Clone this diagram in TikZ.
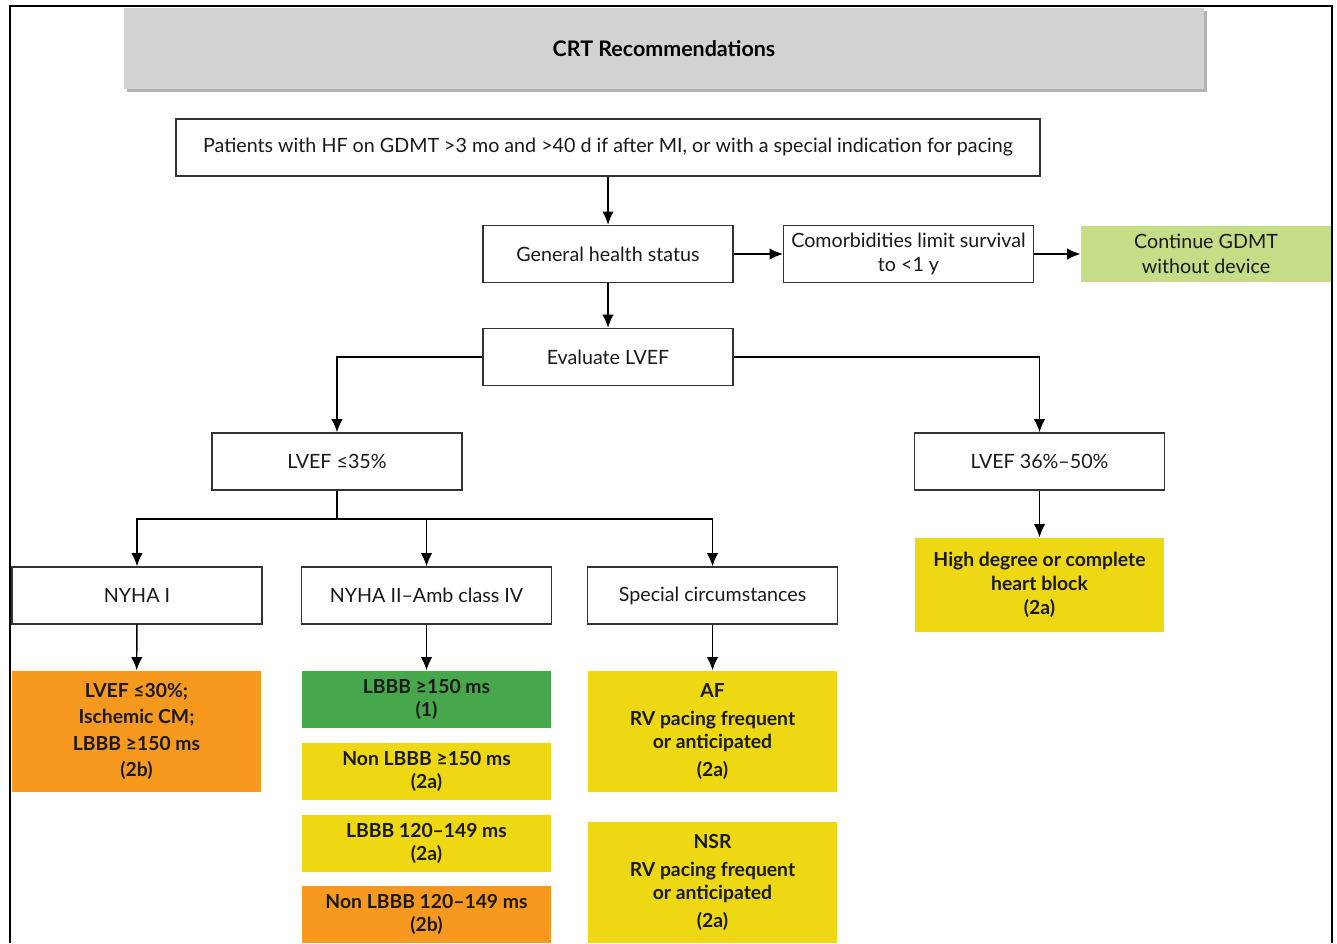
\documentclass[tikz,border=0pt]{standalone}
\usepackage{fontspec}
\setmainfont{Lato}
\usetikzlibrary{arrows.meta}

\definecolor{titlegray}{HTML}{D1D2D4}
\definecolor{titleedge}{HTML}{B3B4B6}
\definecolor{softgreen}{HTML}{C6DD87}
\definecolor{recgreen}{HTML}{46A84A}
\definecolor{recyellow}{HTML}{EED813}
\definecolor{recorange}{HTML}{F6991E}

\begin{document}
\begin{tikzpicture}[x=0.02cm, y=-0.02cm, >={Latex[length=7.5pt,width=6.5pt]},
  line width=0.8pt, font=\fontsize{11.2}{14}\selectfont,
  box/.style={draw=black!80, fill=white, text=black!90, minimum width=5cm,
    minimum height=1.14cm, align=center, inner sep=2pt},
  rec/.style={text=black!90, minimum width=5cm, minimum height=1.14cm,
    align=center, inner sep=2pt, font=\fontsize{11}{13.5}\selectfont\bfseries},
  titlebar/.style={fill=titlegray, minimum width=21.6cm, minimum height=1.62cm,
    font=\fontsize{12.2}{14}\selectfont\bfseries}]
\useasboundingbox (0,0) rectangle (1337,943);
% outer frame
\draw[line width=1.2pt] (10,943) -- (10,6) -- (1332,6) -- (1332,943);
% title with bevelled edge
\fill[titleedge] (127,11) rectangle (1207,92);
\node[titlebar] (title) at (664,48.5) {CRT Recommendations};
% decision boxes
\node[box, minimum width=17.28cm] (patients) at (608,147.5)
  {Patients with HF on GDMT >3 mo and >40 d if after MI, or with a special indication for pacing};
\node[box] (health) at (608,254) {General health status};
\node[box] (comorb) at (908.5,254) {Comorbidities limit survival\\to <1 y};
\node[rec, fill=softgreen, font=\fontsize{11.2}{14}\selectfont] (nodevice) at (1206,254)
  {Continue GDMT\\without device};
\node[box] (evaluate) at (608,357) {Evaluate LVEF};
\node[box] (lowef) at (337,461.5) {LVEF ≤35\%};
\node[box] (midef) at (1039.5,461.5) {LVEF 36\%–50\%};
\node[box] (nyhaI) at (137,595.5) {NYHA I};
\node[box] (nyhaII) at (426.5,595.5) {NYHA II–Amb class IV};
\node[box] (special) at (712.5,595.5) {Special circumstances};
% recommendations
\node[rec, fill=recorange, minimum height=2.42cm] (recA) at (136.5,731.5)
  {LVEF ≤30\%;\\[1.5pt]Ischemic CM;\\[1.5pt]LBBB ≥150 ms\\[1.5pt](2b)};
\node[rec, fill=recgreen] (recB) at (426.5,699.5) {LBBB ≥150 ms\\(1)};
\node[rec, fill=recyellow] (recC) at (426.5,771.5) {Non LBBB ≥150 ms\\(2a)};
\node[rec, fill=recyellow] (recD) at (426.5,843.5) {LBBB 120–149 ms\\(2a)};
\node[rec, fill=recorange] (recE) at (426.5,914.5) {Non LBBB 120–149 ms\\(2b)};
\node[rec, fill=recyellow, minimum height=2.42cm] (recAF) at (712.5,731.5)
  {AF\\[2pt]RV pacing frequent\\or anticipated\\[2pt](2a)};
\node[rec, fill=recyellow, minimum height=2.42cm] (recNSR) at (712.5,882.5)
  {NSR\\[2pt]RV pacing frequent\\or anticipated\\[2pt](2a)};
\node[rec, fill=recyellow, minimum height=1.88cm] (recHB) at (1039.5,585)
  {High degree or complete\\heart block\\(2a)};
% connectors
\coordinate (bus) at (337,519);
\draw[->] (patients) -- (health);
\draw[->] (health) -- (comorb);
\draw[->] (comorb) -- (nodevice);
\draw[->] (health) -- (evaluate);
\draw[->] (evaluate.west) -| (lowef.north);
\draw[->] (evaluate.east) -| (midef.north);
\draw (lowef) -- (bus);
\draw[->] (bus) -| (nyhaI);
\draw[->] (bus) -| (nyhaII);
\draw[->] (bus) -| (special);
\draw[->] (nyhaI) -- (recA);
\draw[->] (nyhaII) -- (recB);
\draw[->] (special) -- (recAF);
\draw[->] (midef) -- (recHB);
\end{tikzpicture}
\end{document}
